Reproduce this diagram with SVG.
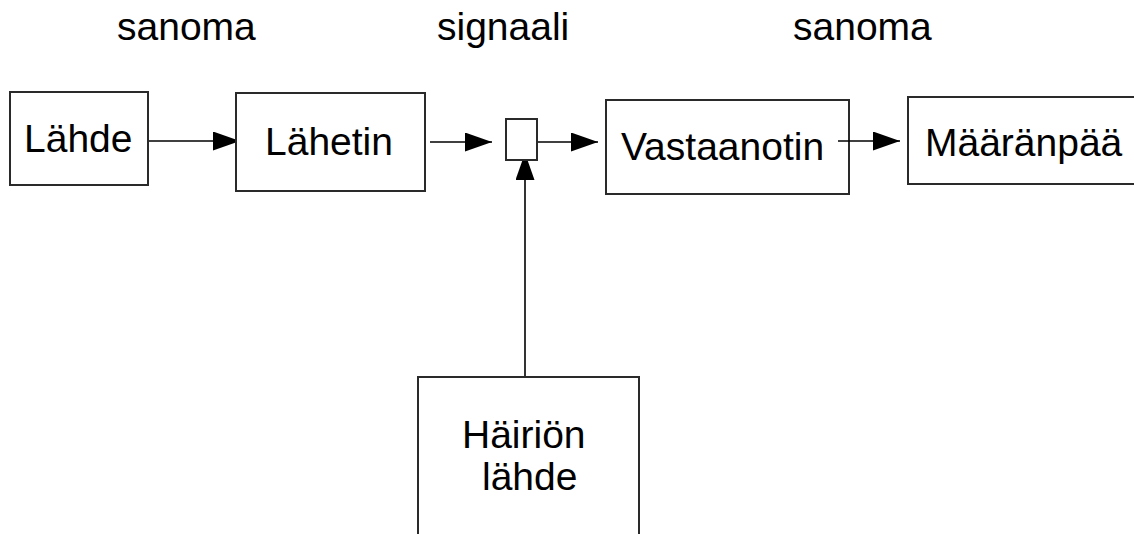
<svg xmlns="http://www.w3.org/2000/svg" width="1134" height="534" viewBox="0 0 1134 534">
<style>
.box{fill:#fff;stroke:#2a2a2a;stroke-width:2}
.t{font-family:"Liberation Sans",Arial,sans-serif;font-size:39px;fill:#000}
.c{stroke:#000;stroke-width:1.6;fill:none}
</style>
<defs>
<marker id="ah" markerUnits="userSpaceOnUse" markerWidth="28" markerHeight="20" refX="27" refY="9.5" orient="auto">
<path d="M0,0 L27,9.5 L0,19 Z" fill="#000"/>
</marker>
</defs>
<rect width="1134" height="534" fill="#fff"/>
<g id="labels">
<text class="t" x="117" y="40">sanoma</text>
<text class="t" x="437" y="40">signaali</text>
<text class="t" x="793" y="40">sanoma</text>
</g>
<g id="connectors">
<line class="c" x1="148" y1="141" x2="240" y2="141" marker-end="url(#ah)"/>
<line class="c" x1="430" y1="142" x2="492" y2="142" marker-end="url(#ah)"/>
<line class="c" x1="537" y1="142" x2="598" y2="142" marker-end="url(#ah)"/>
<line class="c" x1="525" y1="377" x2="525" y2="153" marker-end="url(#ah)"/>
</g>
<g id="lahde">
<rect class="box" x="10" y="92" width="138" height="93"/>
<text class="t" x="24" y="152">Lähde</text>
</g>
<g id="lahetin">
<rect class="box" x="236" y="93" width="189" height="98"/>
<text class="t" x="265" y="155">Lähetin</text>
</g>
<g id="kanava">
<rect class="box" x="506" y="119" width="31" height="41"/>
</g>
<g id="vastaanotin">
<rect class="box" x="606" y="100" width="243" height="94"/>
<text class="t" x="621" y="160">Vastaanotin</text>
</g>
<g id="connector2">
<line class="c" x1="838" y1="141" x2="900" y2="141" marker-end="url(#ah)"/>
</g>
<g id="maaranpaa">
<rect class="box" x="908" y="97" width="240" height="87"/>
<text class="t" x="925" y="156">Määränpää</text>
</g>
<g id="hairio">
<rect class="box" x="418" y="377" width="221" height="170"/>
<text class="t" x="462" y="448">Häiriön</text>
<text class="t" x="482" y="490">lähde</text>
</g>
</svg>
